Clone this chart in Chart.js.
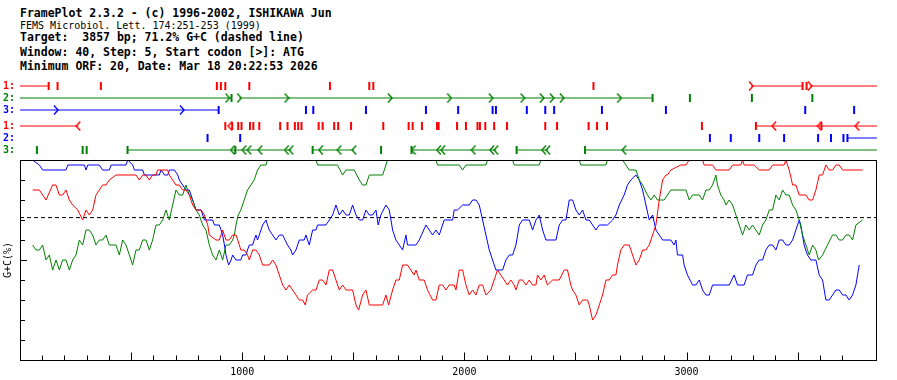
<!DOCTYPE html>
<html>
<head>
<meta charset="utf-8">
<script src="https://cdn.jsdelivr.net/npm/chart.js@4.4.1/dist/chart.umd.min.js"></script>
<style>
  body { margin: 0; background: #fff; width: 897px; height: 380px; overflow: hidden; position: relative; }
  .hd { position: absolute; left: 20px; white-space: pre; color: #000;
        font-family: "DejaVu Sans Mono", monospace; font-weight: bold; font-size: 11.5px; line-height: 13px; }
  .hd.sub { font-weight: normal; font-size: 10px; }
  #orf { position: absolute; left: 0; top: 80px; }
  #gc { position: absolute; left: 0; top: 155px; }
</style>
</head>
<body>
<div class="hd" style="top:7px">FramePlot 2.3.2 - (c) 1996-2002, ISHIKAWA Jun</div>
<div class="hd sub" style="top:19px">FEMS Microbiol. Lett. 174:251-253 (1999)</div>
<div class="hd" style="top:31px">Target:  3857 bp; 71.2% G+C (dashed line)</div>
<div class="hd" style="top:46px">Window: 40, Step: 5, Start codon [&gt;]: ATG</div>
<div class="hd" style="top:60px">Minimum ORF: 20, Date: Mar 18 20:22:53 2026</div>
<canvas id="orf" width="897" height="76"></canvas>
<canvas id="gc" width="897" height="225"></canvas>
<script>
const seqLen = 3857;
const gcTarget = 71.2;

// six frames: 1-3 forward, 1-3 reverse
const rowLabels = ['1:', '2:', '3:', '1:', '2:', '3:'];
const rowColors = ['#ff0000', '#008000', '#0000ff', '#ff0000', '#0000ff', '#008000'];

const stops = [
  [129, 169, 364, 886, 904, 924, 1032, 1395, 1572, 1590, 2581, 3522, 3540],
  [952, 2847, 3015, 3294, 3566],
  [894, 1287, 1320, 1557, 1827, 1972, 2127, 2142, 2281, 2364, 2404, 2619, 2907, 3534, 3754],
  [924, 955, 982, 997, 1035, 1050, 1077, 1171, 1204, 1237, 1252, 1267, 1344, 1362, 1414, 1432, 1490,
   1635, 1749, 1767, 1809, 1877, 1884, 1967, 2007, 2059, 2070, 2094, 2134, 2192, 2364, 2417, 2559,
   2597, 2642, 3069, 3312, 3607],
  [844, 991, 3105, 3199, 3327, 3439, 3592, 3650, 3706, 3724],
  [76, 282, 300, 484, 969, 1317, 1625, 1762, 2235, 2543]
];
const starts = [
  [3290, 3555],
  [934, 987, 1200, 1665, 1932, 2119, 2262, 2349, 2394, 2439, 2697],
  [162, 729],
  [262, 946, 3394, 3598, 3768],
  [],
  [957, 1009, 1032, 1081, 1200, 1221, 1354, 1437, 1504, 1771, 1885, 1904, 2041, 2124, 2143, 2358, 2377, 2719]
];
const orfs = [
  [[0, 129], [3290, 3522], [3555, 3857]],
  [[0, 952], [987, 2847]],
  [[0, 894]],
  [[0, 262], [3312, 3857]],
  [[3724, 3857]],
  [[484, 1221], [1317, 1504], [1762, 2143], [2235, 2377], [2543, 3857]]
];

// G+C % per codon position, [position bp, percent]
const gcRed = [[57,85],[87,85],[117,80],[147,87.5],[162,87.5],[177,82.5],[192,82.5],[207,85],[222,80],[237,77.5],[260,75],[282,70],[297,75],[312,72.5],[327,75],[342,82.5],[357,85],[372,87.5],[387,87.5],[402,90],[432,92.5],[522,92.5],[537,90],[552,92.5],[567,92.5],[582,90],[597,92.5],[612,92.5],[619,95],[664,95],[672,92.5],[687,90],[702,87.5],[717,87.5],[732,85],[747,85],[762,82.5],[777,77.5],[792,75],[815,75],[830,72.5],[845,67.5],[852,62.5],[882,60],[897,60],[912,65],[927,60],[942,60],[957,62.5],[972,62.5],[980,60],[994,55],[1009,55],[1024,52.5],[1032,50],[1047,55],[1062,55],[1077,52.5],[1092,47.5],[1122,47.5],[1137,50],[1152,47.5],[1167,42.5],[1182,37.5],[1197,35],[1212,37.5],[1227,35],[1242,32.5],[1257,30],[1272,30],[1284,27.5],[1294,32.5],[1317,35],[1332,35],[1347,40],[1362,40],[1377,37.5],[1392,45],[1407,45],[1422,40],[1437,35],[1452,37.5],[1467,35],[1497,35],[1512,27.5],[1524,25],[1542,32.5],[1557,35],[1572,27.5],[1632,27.5],[1647,32.5],[1659,27.5],[1677,35],[1692,40],[1707,40],[1722,47.5],[1744,47.5],[1759,45],[1774,42.5],[1782,45],[1797,40],[1819,40],[1834,35],[1857,30],[1872,30],[1887,37.5],[1902,37.5],[1917,35],[1932,37.5],[1954,37.5],[1962,35],[1977,45],[1992,45],[2007,37.5],[2022,32.5],[2037,35],[2052,32.5],[2067,37.5],[2082,37.5],[2097,32.5],[2119,35],[2134,40],[2149,45],[2164,42.5],[2179,40],[2194,37.5],[2209,40],[2224,37.5],[2232,35],[2247,40],[2262,40],[2277,37.5],[2292,40],[2307,37.5],[2322,37.5],[2329,42.5],[2344,40],[2359,42.5],[2374,37.5],[2397,40],[2427,40],[2449,45],[2464,45],[2479,37.5],[2487,35],[2502,32.5],[2517,27.5],[2532,30],[2554,30],[2562,27.5],[2577,20],[2592,22.5],[2607,27.5],[2622,32.5],[2637,40],[2652,40],[2667,42.5],[2682,42.5],[2689,47.5],[2704,55],[2719,57.5],[2742,57.5],[2757,52.5],[2772,47.5],[2787,50],[2802,55],[2817,55],[2832,57.5],[2847,62.5],[2862,67.5],[2877,80],[2892,90],[2907,92.5],[2914,92.5],[2929,95],[2974,97.5],[2997,97.5],[3012,100],[3072,100],[3079,97.5],[3117,97.5],[3132,95],[3192,95],[3207,97.5],[3244,97.5],[3252,100],[3259,97.5],[3304,97.5],[3327,95],[3372,95],[3387,97.5],[3439,97.5],[3447,100],[3462,95],[3477,87.5],[3492,87.5],[3507,82.5],[3537,82.5],[3552,80],[3567,80],[3582,85],[3597,92.5],[3612,92.5],[3627,97.5],[3642,95],[3657,95],[3672,97.5],[3687,97.5],[3702,95],[3792,95]];

const gcGreen = [[57,57.5],[72,55],[87,55],[102,57.5],[117,50],[132,52.5],[147,45],[162,50],[177,45],[192,50],[207,50],[222,45],[237,50],[252,52.5],[267,60],[282,57.5],[297,65],[312,65],[327,62.5],[342,57.5],[357,60],[372,60],[387,62.5],[402,57.5],[432,57.5],[447,52.5],[462,60],[477,57.5],[492,52.5],[507,47.5],[522,55],[537,55],[552,60],[567,60],[582,55],[597,60],[612,67.5],[627,67.5],[642,70],[657,75],[672,70],[687,77.5],[702,85],[717,82.5],[732,82.5],[747,87.5],[762,82.5],[777,80],[792,75],[807,72.5],[822,67.5],[837,65],[852,57.5],[867,52.5],[882,50],[897,55],[912,50],[927,57.5],[942,57.5],[957,60],[965,62.5],[972,67.5],[982,72.5],[994,75],[1009,80],[1024,85],[1039,87.5],[1054,90],[1069,95],[1084,97.5],[1107,97.5],[1114,100],[1332,100],[1339,97.5],[1429,97.5],[1452,92.5],[1467,95],[1504,95],[1527,90],[1542,87.5],[1557,87.5],[1572,92.5],[1632,92.5],[1647,97.5],[1654,100],[1872,100],[1879,97.5],[1977,97.5],[1992,95],[2007,97.5],[2097,97.5],[2104,100],[2217,100],[2224,97.5],[2337,97.5],[2344,100],[2517,100],[2524,97.5],[2637,97.5],[2644,100],[2712,100],[2727,97.5],[2742,95],[2772,95],[2787,90],[2802,87.5],[2824,82.5],[2839,80],[2854,82.5],[2869,80],[2899,80],[2914,82.5],[2929,85],[2997,85],[3012,80],[3027,82.5],[3057,82.5],[3072,80],[3087,85],[3102,85],[3117,87.5],[3132,92.5],[3139,87.5],[3154,82.5],[3169,80],[3177,77.5],[3192,80],[3207,77.5],[3222,72.5],[3237,67.5],[3252,62.5],[3267,67.5],[3282,65],[3297,67.5],[3312,65],[3327,62.5],[3342,67.5],[3357,70],[3372,75],[3387,75],[3402,82.5],[3417,80],[3432,85],[3447,82.5],[3462,82.5],[3477,77.5],[3492,75],[3507,70],[3522,62.5],[3537,57.5],[3552,52.5],[3567,57.5],[3582,55],[3594,50],[3612,52.5],[3634,57.5],[3657,62.5],[3672,62.5],[3687,60],[3702,60],[3717,62.5],[3732,62.5],[3747,60],[3762,67.5],[3792,70]];

const gcBlue = [[57,100],[87,97.5],[102,95],[207,95],[215,97.5],[290,97.5],[297,95],[305,97.5],[357,97.5],[372,95],[402,95],[410,97.5],[477,97.5],[485,100],[507,97.5],[515,95],[552,95],[560,92.5],[627,92.5],[635,95],[650,92.5],[665,92.5],[672,95],[695,95],[710,92.5],[717,90],[732,87.5],[747,85],[762,85],[770,82.5],[777,80],[785,77.5],[792,75],[815,75],[830,70],[867,70],[875,67.5],[897,67.5],[905,65],[912,62.5],[920,57.5],[927,52.5],[939,47.5],[950,50],[957,52.5],[972,50],[994,50],[1002,52.5],[1017,52.5],[1024,55],[1032,57.5],[1047,57.5],[1054,60],[1062,62.5],[1069,60],[1077,62.5],[1092,67.5],[1107,70],[1114,67.5],[1122,65],[1137,62.5],[1152,60],[1167,62.5],[1182,62.5],[1204,57.5],[1219,55],[1227,52.5],[1242,55],[1257,60],[1279,60],[1287,62.5],[1294,60],[1302,57.5],[1317,65],[1332,65],[1339,67.5],[1377,67.5],[1392,70],[1407,72.5],[1422,77.5],[1437,72.5],[1452,75],[1467,72.5],[1482,72.5],[1497,77.5],[1512,72.5],[1527,70],[1542,70],[1557,75],[1572,72.5],[1587,72.5],[1602,75],[1612,67.5],[1624,72.5],[1647,77.5],[1662,75],[1677,65],[1692,60],[1707,57.5],[1722,55],[1737,62.5],[1744,57.5],[1782,57.5],[1797,60],[1827,67.5],[1842,65],[1857,62.5],[1872,65],[1887,62.5],[1909,70],[1947,70],[1954,75],[1969,75],[1992,77.5],[2022,77.5],[2037,80],[2052,80],[2067,77.5],[2082,70],[2097,62.5],[2112,55],[2127,50],[2142,45],[2172,45],[2187,50],[2202,52.5],[2217,52.5],[2232,57.5],[2247,67.5],[2262,70],[2292,70],[2307,65],[2322,70],[2337,72.5],[2352,65],[2367,60],[2412,60],[2427,67.5],[2442,70],[2457,70],[2472,80],[2487,80],[2502,75],[2517,72.5],[2532,75],[2547,70],[2562,70],[2592,65],[2607,67.5],[2644,67.5],[2667,70],[2682,72.5],[2697,77.5],[2719,82.5],[2734,87.5],[2749,90],[2772,92.5],[2787,90],[2802,85],[2817,77.5],[2832,70],[2847,72.5],[2862,65],[2877,62.5],[2892,60],[2929,60],[2944,57.5],[2952,60],[2959,52.5],[2982,52.5],[2989,47.5],[3004,42.5],[3027,37.5],[3042,37.5],[3057,40],[3072,35],[3087,32.5],[3102,32.5],[3117,37.5],[3192,37.5],[3214,42.5],[3229,37.5],[3259,37.5],[3274,42.5],[3297,42.5],[3312,47.5],[3327,50],[3342,50],[3357,55],[3372,57.5],[3387,57.5],[3402,55],[3417,60],[3432,60],[3447,57.5],[3462,57.5],[3477,60],[3492,65],[3507,70],[3514,67.5],[3529,57.5],[3544,52.5],[3559,50],[3582,50],[3597,42.5],[3612,40],[3627,30],[3642,30],[3672,35],[3687,35],[3702,32.5],[3717,32.5],[3732,30],[3747,32.5],[3762,37.5],[3777,47.5]];

const mono = '"DejaVu Sans Mono", monospace';

// reverse frames sit a little lower than the forward ones
const rowPos = rowLabels.map((l, i) => i + (i > 2 ? 1 / 3 : 0));

function arrowImg(color, fwd) {
  const c = document.createElement('canvas');
  c.width = 6; c.height = 10;
  const g = c.getContext('2d');
  g.strokeStyle = color;
  g.lineWidth = 1.4;
  g.beginPath();
  if (fwd) { g.moveTo(1, 0.5); g.lineTo(5, 5); g.lineTo(1, 9.5); }
  else { g.moveTo(5, 0.5); g.lineTo(1, 5); g.lineTo(5, 9.5); }
  g.stroke();
  return c;
}

const orfSets = [];
rowLabels.forEach((lab, i) => {
  const y = rowPos[i];
  const col = rowColors[i];
  orfSets.push({
    type: 'line',
    data: orfs[i].flatMap(([a, b]) => [{x: a, y: y}, {x: b, y: y}, {x: b, y: null}]),
    borderColor: col, borderWidth: 1, pointRadius: 0, spanGaps: false, clip: false
  });
  orfSets.push({
    type: 'scatter',
    data: stops[i].map(x => ({x: x, y: y})),
    pointStyle: 'line', pointRotation: 90, pointRadius: 4,
    pointBorderWidth: 2, pointBorderColor: col, clip: false
  });
  orfSets.push({
    type: 'scatter',
    data: starts[i].map(x => ({x: x, y: y})),
    pointStyle: arrowImg(col, i < 3), pointRadius: 3, clip: false
  });
});

new Chart(document.getElementById('orf'), {
  type: 'scatter',
  data: { datasets: orfSets },
  options: {
    responsive: false, animation: false, events: [],
    layout: { autoPadding: false, padding: { left: 0, right: 20, top: 0, bottom: 0 } },
    plugins: { legend: { display: false }, tooltip: { enabled: false } },
    scales: {
      x: { type: 'linear', min: 0, max: seqLen, display: false },
      y: {
        type: 'linear', reverse: true, min: -0.5, max: 5.8333,
        grid: { display: false, drawTicks: false }, border: { display: false },
        afterBuildTicks: s => { s.ticks = rowPos.map(v => ({ value: v })); },
        // keep the label box from shrinking the rows
        afterFit: s => { s.width = 20; s.paddingTop = 0; s.paddingBottom = 0; },
        ticks: {
          autoSkip: false, padding: 5,
          color: c => rowColors[c.index],
          font: { family: mono, size: 10, weight: 'bold' },
          callback: (v, i) => rowLabels[i]
        }
      }
    }
  }
});

const frame = {
  id: 'frame',
  afterDatasetsDraw(chart) {
    const { ctx, chartArea: a, scales: { x, y } } = chart;
    ctx.save();
    ctx.strokeStyle = '#000';
    ctx.lineWidth = 1;
    ctx.strokeRect(a.left + 0.5, a.top + 0.5, a.right - a.left - 1, a.bottom - a.top);
    ctx.beginPath();
    x.ticks.forEach(t => {
      const v = t.value;
      if (v <= 0 || v >= seqLen || v % 100) return;
      const px = Math.round(x.getPixelForValue(v)) + 0.5;
      ctx.moveTo(px, a.bottom + 0.5);
      ctx.lineTo(px, a.bottom + 0.5 - (v % 500 === 0 ? 8 : 5));
    });
    y.ticks.forEach(t => {
      const v = t.value;
      if (v <= 0 || v >= 100) return;
      const py = Math.round(y.getPixelForValue(v)) + 0.5;
      ctx.moveTo(a.left, py);
      ctx.lineTo(a.left + (v === 50 ? 7 : 5), py);
    });
    ctx.stroke();
    ctx.restore();
  }
};

const toXY = arr => arr.map(([x, y]) => ({ x: x, y: y }));

new Chart(document.getElementById('gc'), {
  type: 'line',
  data: {
    datasets: [
      { data: toXY(gcRed), borderColor: '#ff0000' },
      { data: toXY(gcGreen), borderColor: '#008000' },
      { data: toXY(gcBlue), borderColor: '#0000ff' },
      { data: [{ x: 0, y: gcTarget }, { x: seqLen, y: gcTarget }], borderColor: '#000', borderDash: [4, 3] }
    ]
  },
  options: {
    responsive: false, animation: false, events: [],
    layout: { padding: { left: 0, right: 20, top: 5, bottom: 0 } },
    elements: { point: { radius: 0 }, line: { borderWidth: 1, tension: 0 } },
    plugins: { legend: { display: false }, tooltip: { enabled: false } },
    scales: {
      x: {
        type: 'linear', min: 0, max: seqLen,
        grid: { display: false, drawTicks: false }, border: { display: false },
        ticks: {
          stepSize: 100, autoSkip: false, maxRotation: 0, padding: 6,
          color: '#000', font: { family: mono, size: 10 },
          callback: v => (v > 0 && v % 1000 === 0) ? String(v) : ''
        },
        afterFit: s => { s.height = 20; }
      },
      y: {
        min: 0, max: 100,
        grid: { display: false, drawTicks: false }, border: { display: false },
        ticks: { display: false, stepSize: 10 },
        title: { display: true, text: 'G+C(%)', color: '#000', font: { family: mono, size: 10 }, padding: { top: 2, bottom: 0 } },
        afterFit: s => { s.width = 20; }
      }
    }
  },
  plugins: [frame]
});
</script>
</body>
</html>
